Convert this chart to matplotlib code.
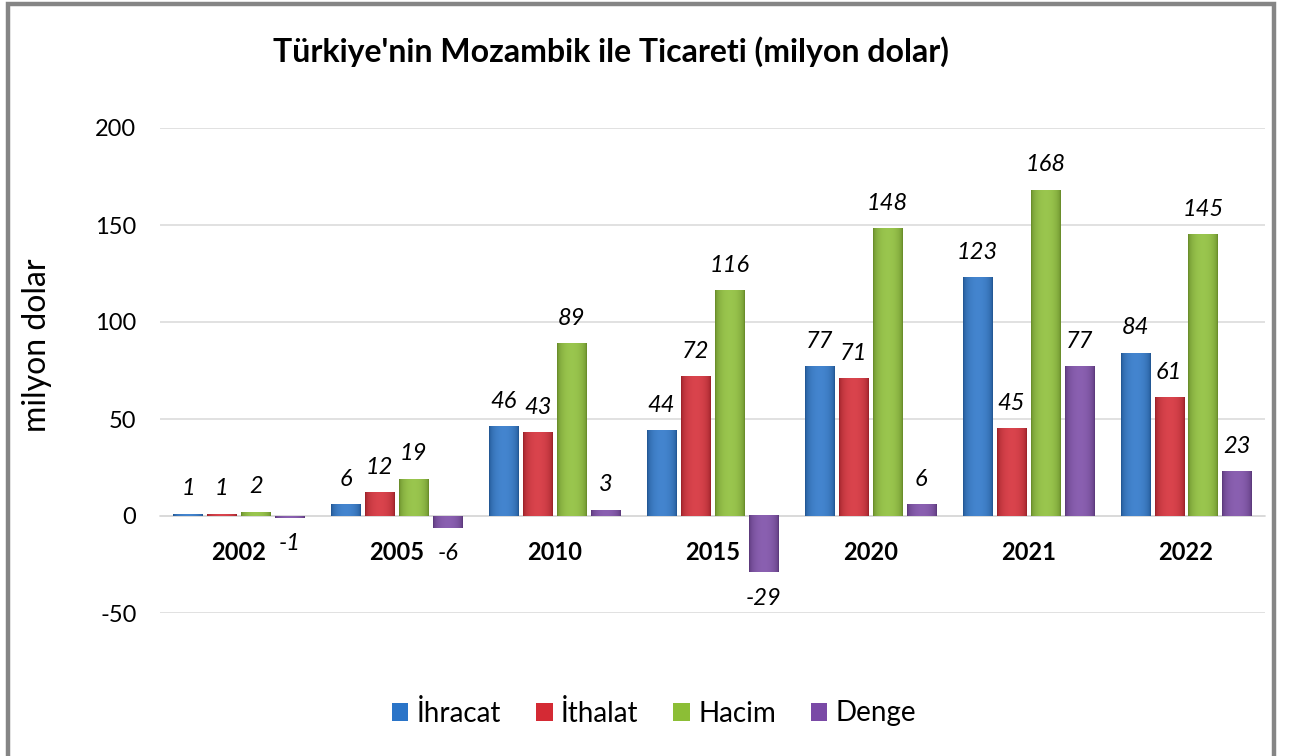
import numpy as np
import matplotlib
matplotlib.use("Agg")
import matplotlib.pyplot as plt
from matplotlib.colors import to_rgb
from matplotlib.patches import Rectangle

plt.rcParams['font.family'] = ['Lato', 'DejaVu Sans']

years = ['2002', '2005', '2010', '2015', '2020', '2021', '2022']
ihracat = [1, 6, 46, 44, 77, 123, 84]
ithalat = [1, 12, 43, 72, 71, 45, 61]
hacim = [2, 19, 89, 116, 148, 168, 145]
denge = [-1, -6, 3, -29, 6, 77, 23]
series_names = ['İhracat', 'İthalat', 'Hacim', 'Denge']
series_colors = ['#2a74c8', '#d42a34', '#8cbe36', '#7a4aa6']
yticks = [-50, 0, 50, 100, 150, 200]

W, H = 1292, 756
fig = plt.figure(figsize=(W / 100, H / 100), dpi=100)
ax = fig.add_axes([160 / W, 1 - 613 / H, (1265 - 160) / W, (613 - 128) / H])
ax.spines['bottom'].set_position(('data', 0))

x = np.arange(len(years))
pitch = 0.215
width = 0.185
all_series = [ihracat, ithalat, hacim, denge]


def gradient_img(color, n=64):
    base = np.array(to_rgb(color))
    t = np.linspace(-1, 1, n)
    w = (1 - t ** 2)
    light = base + (1 - base) * 0.12
    dark = base * 0.70
    img = dark[None, :] * (1 - w[:, None] ** 0.5) + light[None, :] * (w[:, None] ** 0.5)
    img = np.clip(img, 0, 1)
    return img[None, :, :]


for i, (vals, col, name) in enumerate(zip(all_series, series_colors, series_names)):
    xs = x + (i - 1.5) * pitch
    bars = ax.bar(xs, vals, width, color=col, label=name, zorder=3, linewidth=0)
    img = gradient_img(col)
    for b, v, xc in zip(bars, vals, xs):
        x0 = b.get_x()
        x1 = x0 + b.get_width()
        y0, y1 = (0, v) if v >= 0 else (v, 0)
        ax.imshow(img, extent=[x0, x1, y0, y1], aspect='auto', zorder=4,
                  interpolation='bilinear')
        if v >= 0:
            ax.annotate(str(v), (xc, v), xytext=(0, 13.5), textcoords='offset points',
                        ha='center', va='baseline', fontsize=17, style='italic',
                        zorder=6)
        else:
            ax.annotate(str(v), (xc, v), xytext=(0, -11), textcoords='offset points',
                        ha='center', va='top', fontsize=17, style='italic', zorder=6)

ax.set_xlim(-0.5, len(years) - 0.5)
ax.set_ylim(-50, 200)
ax.set_yticks(yticks)
ax.set_yticklabels([str(t) for t in yticks], fontsize=17)
ax.tick_params(axis='y', length=0, pad=17)
ax.set_xticks(x)
ax.set_xticklabels(years, fontsize=17, fontweight='bold')
ax.tick_params(axis='x', length=0, pad=18)
ax.spines['bottom'].set_color('#d9d9d9')
ax.spines['bottom'].set_linewidth(1.1)
for s in ['top', 'right', 'left']:
    ax.spines[s].set_visible(False)
ax.grid(axis='y', color='#d9d9d9', linewidth=1.1, zorder=0)
ax.set_axisbelow(True)

fig.text(611 / W, 1 - 52 / H, "Türkiye'nin Mozambik ile Ticareti (milyon dolar)",
         ha='center', va='center', fontsize=23, fontweight='bold')
fig.text(37 / W, 1 - 345 / H, 'milyon dolar', rotation=90, ha='center', va='center',
         fontsize=23)

handles = [Rectangle((0, 0), 1, 1, facecolor=c, edgecolor='none') for c in series_colors]
fig.legend(handles, series_names, loc='center', bbox_to_anchor=(654 / W, 1 - 713 / H),
           ncol=4, frameon=False, fontsize=20, handlelength=0.6, handleheight=0.6,
           handletextpad=0.3, columnspacing=1.25)

border = Rectangle((8 / W, -0.05), (1274 - 8) / W, 1.05 - 4 / H, transform=fig.transFigure,
                   fill=False, edgecolor='#858585', linewidth=3.2)
fig.patches.append(border)

fig.savefig('out.png', dpi=100)
